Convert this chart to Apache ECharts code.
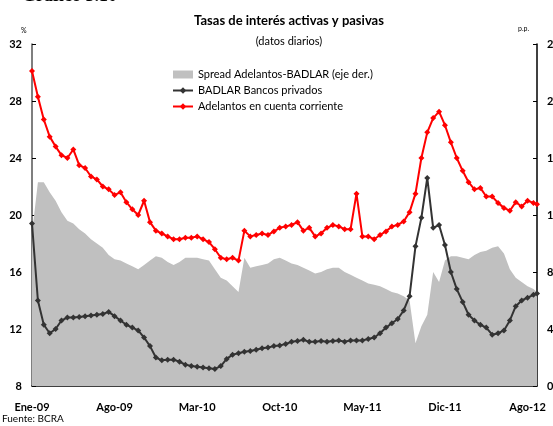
<!DOCTYPE html>
<html>
<head>
<meta charset="utf-8">
<script src="https://cdn.jsdelivr.net/npm/echarts@6/dist/echarts.min.js"></script>
<style>
  html, body { margin: 0; padding: 0; background: #fff; }
  #chart { width: 553px; height: 426px; }
</style>
</head>
<body>
<div id="chart"></div>
<script>
// meses desde ene-09, cada medio mes
const months = [];
for (let i = 0; i <= 85; i++) months.push(i * 0.5);
months.push(42.8);

const tickLabels = ['Ene-09', 'Ago-09', 'Mar-10', 'Oct-10', 'May-11', 'Dic-11', 'Ago-12'];

const adelantos = [
  30.1, 28.3, 26.7, 25.5, 24.8, 24.2, 24.0, 24.6, 23.5, 23.3,
  22.7, 22.5, 22.0, 21.8, 21.4, 21.6, 20.9, 20.4, 20.0, 21.0,
  19.5, 18.9, 18.7, 18.5, 18.3, 18.3, 18.4, 18.4, 18.5, 18.3,
  18.1, 17.6, 17.0, 16.9, 17.0, 16.8, 18.9, 18.5, 18.6, 18.7,
  18.6, 18.85, 19.1, 19.2, 19.3, 19.5, 18.9, 19.1, 18.5, 18.7,
  19.1, 19.3, 19.2, 19.0, 19.0, 21.5, 18.5, 18.5, 18.3, 18.6,
  18.85, 19.2, 19.3, 19.55, 20.2, 21.5, 24.0, 25.8, 26.8, 27.25,
  26.3, 25.1, 24.0, 23.1, 22.3, 21.8, 21.9, 21.3, 21.3, 20.85,
  20.5, 20.3, 20.9, 20.6, 21.0, 20.85, 20.75
];

const badlar = [
  19.4, 14.0, 12.3, 11.7, 12.0, 12.6, 12.8, 12.8, 12.85, 12.9,
  12.95, 13.0, 13.05, 13.2, 12.9, 12.6, 12.3, 12.1, 11.9, 11.4,
  10.8, 10.0, 9.8, 9.85, 9.85, 9.7, 9.5, 9.4, 9.35, 9.3,
  9.25, 9.2, 9.4, 9.9, 10.2, 10.3, 10.4, 10.45, 10.55, 10.65,
  10.7, 10.8, 10.85, 10.95, 11.1, 11.15, 11.25, 11.1, 11.1, 11.15,
  11.1, 11.15, 11.2, 11.1, 11.2, 11.2, 11.2, 11.3, 11.4, 11.7,
  12.1, 12.4, 12.7, 13.3, 14.3, 17.8, 19.8, 22.6, 19.1, 19.3,
  17.9, 16.0, 14.8, 13.9, 13.0, 12.6, 12.3, 12.1, 11.6, 11.7,
  11.9, 12.6, 13.6, 14.0, 14.2, 14.4, 14.5
];

const spread = [
  10.7, 14.3, 14.3, 13.6, 13.0, 12.2, 11.6, 11.4, 11.0, 10.7,
  10.3, 10.0, 9.7, 9.2, 8.9, 8.8, 8.6, 8.4, 8.2, 8.5,
  8.8, 9.1, 9.0, 8.7, 8.5, 8.7, 9.0, 9.0, 9.0, 8.9,
  8.8, 8.2, 7.6, 7.4, 7.0, 6.6, 9.0, 8.3, 8.4, 8.5,
  8.6, 8.9, 9.0, 8.8, 8.6, 8.5, 8.3, 8.1, 7.9, 8.0,
  8.2, 8.3, 8.3, 8.0, 7.8, 7.6, 7.4, 7.2, 7.1, 7.0,
  6.8, 6.6, 6.5, 6.3, 6.0, 3.0, 4.2, 5.0, 8.0, 7.3,
  8.8, 9.1, 9.1, 9.0, 8.9, 9.2, 9.4, 9.5, 9.7, 9.8,
  9.3, 8.2, 7.6, 7.3, 7.0, 6.8, 6.6
];

const pairs = (vals) => months.map((m, i) => [m, vals[i]]);

const FONT = 'Lato';
const chart = echarts.init(document.getElementById('chart'));

const option = {
  animation: false,
  textStyle: { fontFamily: FONT },
  title: {
    text: 'Tasas de interés activas y pasivas',
    subtext: '(datos diarios)',
    left: 284,
    textAlign: 'center',
    top: 9,
    itemGap: 9,
    textStyle: { fontFamily: FONT, fontSize: 13, fontWeight: 'bold', color: '#000' },
    subtextStyle: { fontFamily: FONT, fontSize: 11, color: '#000' }
  },
  legend: {
    orient: 'vertical',
    left: 167,
    top: 64,
    itemGap: 5,
    itemWidth: 20,
    itemHeight: 8,
    textStyle: { fontFamily: FONT, fontSize: 11, color: '#000' },
    data: [
      { name: 'Spread Adelantos-BADLAR (eje der.)', icon: 'rect' },
      { name: 'BADLAR Bancos privados' },
      { name: 'Adelantos en cuenta corriente' }
    ]
  },
  grid: { left: 32, right: 16, top: 44, bottom: 40, outerBoundsMode: 'none' },
  xAxis: {
    type: 'value',
    min: 0,
    max: 42.8,
    interval: 7,
    axisLine: { lineStyle: { color: '#000', width: 1.5 } },
    axisTick: { inside: true, length: 4, lineStyle: { color: '#000' } },
    splitLine: { show: false },
    axisLabel: {
      margin: 16,
      fontFamily: FONT,
      fontSize: 11,
      fontWeight: 'bold',
      color: '#000',
      showMaxLabel: false,
      formatter: (v) => (v % 7 === 0 ? tickLabels[v / 7] : '')
    }
  },
  yAxis: [
    {
      type: 'value',
      min: 8,
      max: 32,
      interval: 4,
      axisLine: { show: true, lineStyle: { color: '#555', width: 1.5 } },
      axisTick: { show: true, inside: true, length: 4, lineStyle: { color: '#000' } },
      splitLine: { show: false },
      axisLabel: { margin: 10, fontFamily: FONT, fontSize: 11, fontWeight: 'bold', color: '#000' }
    },
    {
      type: 'value',
      min: 0,
      max: 24,
      interval: 4,
      position: 'right',
      axisLine: { show: true, lineStyle: { color: '#000', width: 1.5 } },
      axisTick: { show: true, inside: true, length: 4, lineStyle: { color: '#000' } },
      splitLine: { show: false },
      axisLabel: { margin: 10, fontFamily: FONT, fontSize: 11, fontWeight: 'bold', color: '#000' }
    }
  ],
  graphic: [
    { type: 'text', left: 22, top: -13, style: { text: 'Gráfico 5.10', font: 'bold 18px "Liberation Serif"', fill: '#000' } },
    { type: 'text', left: 21, top: 27, style: { text: '%', font: '7px Lato', fill: '#000' } },
    { type: 'text', left: 518, top: 25, style: { text: 'p.p.', font: '7px Lato', fill: '#000' } },
    { type: 'text', left: 2, top: 414, style: { text: 'Fuente: BCRA', font: '10px Lato', fill: '#000' } }
  ],
  series: [
    {
      name: 'Spread Adelantos-BADLAR (eje der.)',
      type: 'line',
      yAxisIndex: 1,
      data: pairs(spread),
      symbol: 'none',
      lineStyle: { width: 0 },
      itemStyle: { color: '#c0c0c0' },
      areaStyle: { color: '#c0c0c0', opacity: 1 },
      z: 1
    },
    {
      name: 'BADLAR Bancos privados',
      type: 'line',
      data: pairs(badlar),
      symbol: 'diamond',
      symbolSize: 6,
      lineStyle: { color: '#333', width: 2 },
      itemStyle: { color: '#333' },
      z: 3
    },
    {
      name: 'Adelantos en cuenta corriente',
      type: 'line',
      data: pairs(adelantos),
      symbol: 'diamond',
      symbolSize: 6,
      lineStyle: { color: '#ff0000', width: 2 },
      itemStyle: { color: '#ff0000' },
      z: 4
    }
  ]
};

chart.setOption(option);
window.addEventListener('resize', () => chart.resize());
</script>
</body>
</html>
